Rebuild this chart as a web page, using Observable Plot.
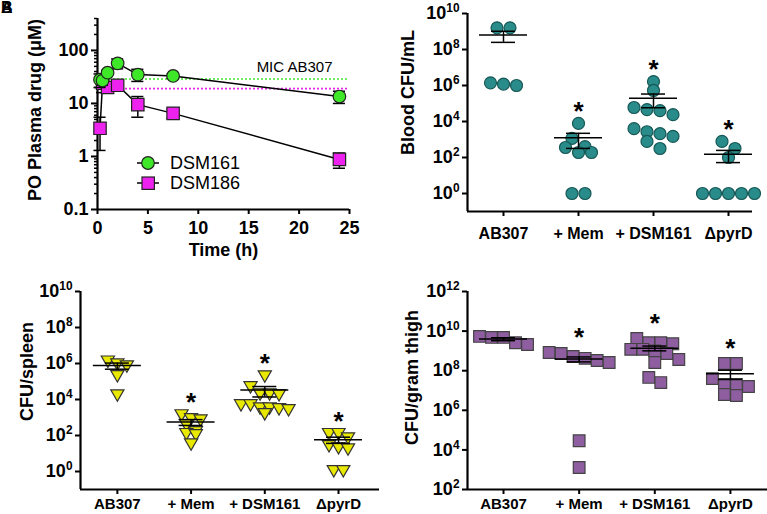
<!DOCTYPE html>
<html><head><meta charset="utf-8">
<script src="https://cdn.jsdelivr.net/npm/d3@7"></script>
<script src="https://cdn.jsdelivr.net/npm/@observablehq/plot@0.6"></script>
<style>
body{margin:0;background:#fff;}
#root{position:relative;width:767px;height:514px;overflow:hidden;font-family:"Liberation Sans",Arial,sans-serif;background:#fff;}
.panel{position:absolute;}
.panel svg{overflow:visible;}
.lg{position:absolute;font-size:18px;line-height:22px;color:#000;white-space:nowrap;}
</style></head><body><div id="root"></div>
<script>
// ---------- Panel A data ----------
const times = [0.25, 0.5, 1, 2, 4, 7.5, 24];
const dsm161 = [28, 27, 38, 57, 35, 33, 13.5];
const dsm161Sd = [8, 5, 4, 12, 9, 3, 3.5];
const dsm186 = [3.4, 24, 20, 22, 9.5, 6.5, 0.88];
const dsm186Sd = [2.1, 8, 3, 3, 4, 1.2, 0.28];
const micLevels = [29, 19]; // DSM161, DSM186
const seriesNames = ["DSM161", "DSM186"];
const xTicksA = [0, 5, 10, 15, 20, 25];
const yTicksA = [0.1, 1, 10, 100];

// ---------- Panels B-D data ----------
const groups = ["AB307", "+ Mem", "+ DSM161", "ΔpyrD"];
const sigGroups = ["+ Mem", "+ DSM161", "ΔpyrD"];
const bloodAB307 = [1.6e9, 1.6e9, 1.4e6, 1.2e6, 1.0e6];
const bloodMem = [7.8e3, 1150, 400, 360, 190, 190, 1, 1];
const bloodDSM161 = [1.65e6, 5.3e5, 6e4, 4.6e4, 4e4, 2.4e4, 4e3, 2.7e3, 2.1e3, 1.5e3, 780, 316];
const bloodPyrD = [780, 316, 100, 1, 1, 1, 1, 1];
const spleenAB307 = [1.6e6, 1.1e6, 8.7e5, 2.5e5, 2.1e4];
const spleenMem = [1660, 1000, 870, 460, 190, 150, 130, 40];
const spleenDSM161 = [2.4e5, 6e4, 2.4e4, 2.4e4, 2.2e4, 6e3, 6e3, 4e3, 4e3, 3.6e3, 3.2e3, 1.9e3];
const spleenPyrD = [150, 150, 87, 32, 25, 21, 1.3, 1.3];
const thighAB307 = [5.4e9, 4.8e9, 4.8e9, 2.6e9, 2.1e9];
const thighMem = [8.3e8, 7.4e8, 5.2e8, 4.2e8, 3.3e8, 2.6e8, 2.9e4, 1.3e3];
const thighDSM161 = [4.2e9, 2.6e9, 2.6e9, 2.3e9, 1.2e9, 1.2e9, 1e9, 7.4e8, 3.7e8, 2.6e8, 4.6e7, 2.5e7];
const thighPyrD = [2.3e8, 2.3e8, 4e7, 2e7, 2e7, 1.6e7, 6.3e6, 5.6e6];
const cfuTicks = [1, 1e2, 1e4, 1e6, 1e8, 1e10];
const thighTicks = [1e2, 1e4, 1e6, 1e8, 1e10, 1e12];

const FONT = '"Liberation Sans", Arial, Helvetica, sans-serif';
const GREEN = "#3ee828", MAGENTA = "#ee22ee";
const root = document.getElementById("root");

function fmtPow(d) { return "10^" + Math.round(Math.log10(d)); }
function superscriptify(svg) {
  d3.select(svg).selectAll("text").each(function () {
    const m = /^10\^(-?\d+)$/.exec(this.textContent);
    if (!m) return;
    const sel = d3.select(this);
    sel.text(null);
    sel.append("tspan").text("10");
    sel.append("tspan").attr("font-size", "0.66em").attr("dy", "-0.6em").text(m[1]);
  });
}
function place(node, left, top) {
  const d = document.createElement("div");
  d.className = "panel"; d.style.left = left + "px"; d.style.top = top + "px";
  d.appendChild(node); root.appendChild(d);
}
const yLabelMark = (label, dx, dy) =>
  Plot.text([label], {frameAnchor: "left", rotate: -90, textAnchor: "middle", lineAnchor: "middle", dx, dy, fontSize: 18, fontWeight: "bold"});

// ---------- Panel A ----------
(function () {
  const rows = (vals, sd, name) => times.map((t, i) => ({series: name, t, v: vals[i], lo: vals[i] - sd[i], hi: vals[i] + sd[i]}));
  const r161 = rows(dsm161, dsm161Sd, seriesNames[0]);
  const r186 = rows(dsm186, dsm186Sd, seriesNames[1]);
  const minor = [];
  for (const base of [0.1, 1, 10, 100]) for (let k = 2; k <= 9; k++) if (base * k <= 400) minor.push(base * k);
  const seriesMarks = (rs, symbol, fill, r) => [
    Plot.line(rs, {x: "t", y: "v", stroke: "black", strokeWidth: 1.5}),
    Plot.ruleX(rs, {x: "t", y1: "lo", y2: "hi", stroke: "black", strokeWidth: 1.5}),
    Plot.ruleY(rs, {y: "lo", x1: d => d.t - 0.6, x2: d => d.t + 0.6, stroke: "black", strokeWidth: 1.5}),
    Plot.ruleY(rs, {y: "hi", x1: d => d.t - 0.6, x2: d => d.t + 0.6, stroke: "black", strokeWidth: 1.5}),
    Plot.dot(rs, {x: "t", y: "v", symbol, r, fill, stroke: "#222", strokeWidth: 1.2})
  ];
  const svg = Plot.plot({
    width: 380, height: 260, marginLeft: 97, marginRight: 31, marginTop: 18, marginBottom: 51,
    style: {fontFamily: FONT, fontSize: "18px", fontWeight: "bold", color: "black", background: "white", overflow: "visible"},
    x: {type: "linear", domain: [0, 25]},
    y: {type: "log", domain: [0.1, 400]},
    marks: [
      Plot.axisY({ticks: minor, tickSize: 3, tickFormat: () => "", label: null, strokeWidth: 1.5}),
      Plot.axisY({ticks: yTicksA, tickFormat: d => String(d), tickSize: 6, tickPadding: 3, label: null, strokeWidth: 2, fontSize: 18}),
      Plot.axisX({ticks: xTicksA, tickSize: 5, tickPadding: 7, label: null, strokeWidth: 2, fontSize: 18}),
      Plot.ruleX([0], {strokeWidth: 2.2}),
      Plot.ruleY([0.1], {strokeWidth: 2.2}),
      Plot.ruleY([micLevels[0]], {stroke: GREEN, strokeWidth: 1.6, strokeDasharray: "2,2"}),
      Plot.ruleY([micLevels[1]], {stroke: MAGENTA, strokeWidth: 1.6, strokeDasharray: "2,2"}),
      Plot.text(["MIC AB307"], {frameAnchor: "right", y: () => micLevels[0], textAnchor: "end", lineAnchor: "middle", dx: -17, dy: -12, fontWeight: "normal", fontSize: 15}),
      ...seriesMarks(r186, "square", MAGENTA, 7),
      ...seriesMarks(r161, "circle", GREEN, 6.3),
      Plot.text(["Time (h)"], {frameAnchor: "bottom", textAnchor: "middle", lineAnchor: "middle", dy: 41, fontSize: 18}),
      yLabelMark("PO Plasma drug (μM)", -62, -4)
    ]
  });
  place(svg, 0, 0);
  // legend
  const items = [
    {name: seriesNames[0], fill: GREEN, shape: "circle", y: 163},
    {name: seriesNames[1], fill: MAGENTA, shape: "square", y: 183}
  ];
  for (const it of items) {
    const s = document.createElementNS("http://www.w3.org/2000/svg", "svg");
    s.setAttribute("width", 26); s.setAttribute("height", 16);
    s.style.position = "absolute"; s.style.left = "135px"; s.style.top = (it.y - 8) + "px";
    const shape = it.shape === "circle"
      ? `<circle cx="13" cy="8" r="6.3" fill="${it.fill}" stroke="#222" stroke-width="1.2"/>`
      : `<rect x="7" y="2" width="12.4" height="12.4" fill="${it.fill}" stroke="#222" stroke-width="1.2"/>`;
    s.innerHTML = `<line x1="2" x2="24" y1="8" y2="8" stroke="black" stroke-width="1.5"/>` + shape;
    root.appendChild(s);
    const t = document.createElement("div");
    t.className = "lg"; t.textContent = it.name;
    t.style.left = "170px"; t.style.top = (it.y - 11) + "px";
    root.appendChild(t);
  }
  for (const L of ["A", "B"]) {
    const t = document.createElement("div");
    t.className = "lg"; t.textContent = L;
    t.style.left = "1px"; t.style.top = "0px"; t.style.lineHeight = "16px";
    t.style.fontWeight = "bold"; t.style.fontSize = "16px";
    root.appendChild(t);
  }
})();

// ---------- Scatter panels ----------
const sqrt3 = Math.sqrt(3);
const triangleDown = {
  draw(ctx, size) {
    const y = Math.sqrt(size / (sqrt3 * 3));
    ctx.moveTo(0, y * 2);
    ctx.lineTo(-sqrt3 * y, -y);
    ctx.lineTo(sqrt3 * y, -y);
    ctx.closePath();
  }
};

function rowOffsets(vals, ppd, spacing, thresh) {
  const idx = d3.range(vals.length).sort((a, b) => vals[b] - vals[a]);
  const offs = new Array(vals.length);
  let row = [], start = null;
  const flush = () => row.forEach((k, j) => offs[k] = (j - (row.length - 1) / 2) * spacing);
  for (const k of idx) {
    const py = Math.log10(vals[k]) * ppd;
    if (start !== null && start - py <= thresh) row.push(k);
    else { flush(); row = [k]; start = py; }
  }
  flush();
  return offs;
}

function scatterPanel(c) {
  const innerH = c.height - c.marginTop - c.marginBottom;
  const ppd = innerH / (Math.log10(c.yDomain[1]) - Math.log10(c.yDomain[0]));
  const innerW = c.width - c.marginLeft - c.marginRight;
  const ppu = innerW / (c.xDomain[1] - c.xDomain[0]);
  const pts = [];
  c.data.forEach((vals, g) => {
    const offs = rowOffsets(vals, ppd, c.spacing, c.thresh);
    vals.forEach((v, i) => pts.push({g, v, x: g + offs[i] / ppu}));
  });
  const stats = c.data.map((vals, g) => {
    const m = d3.mean(vals), se = d3.deviation(vals) / Math.sqrt(vals.length);
    return {g, name: groups[g], m, lo: Math.max(m - se, c.yDomain[0]), hi: m + se, max: d3.max(vals)};
  });
  const stars = stats.filter(s => sigGroups.includes(s.name));
  const hw = 24 / ppu, cw = 12 / ppu;
  const svg = Plot.plot({
    width: c.width, height: c.height, marginLeft: c.marginLeft, marginRight: c.marginRight,
    marginTop: c.marginTop, marginBottom: c.marginBottom,
    style: {fontFamily: FONT, fontSize: "16px", fontWeight: "bold", color: "black", background: "white", overflow: "visible"},
    x: {type: "linear", domain: c.xDomain},
    y: {type: "log", domain: c.yDomain},
    marks: [
      Plot.axisY({ticks: c.yTicks, tickFormat: fmtPow, tickSize: 5, tickPadding: 3, label: null, strokeWidth: 2, fontSize: 18}),
      Plot.axisX({ticks: [0, 1, 2, 3], tickFormat: i => groups[i], tickSize: 5, tickPadding: c.tickPadX, label: null, strokeWidth: 2, fontSize: c.catFont}),
      Plot.ruleX([c.xDomain[0]], {strokeWidth: 2.2}),
      Plot.ruleY([c.yDomain[0]], {strokeWidth: 2.2}),
      Plot.dot(pts, {x: "x", y: "v", symbol: c.symbol, r: c.r, fill: c.fill, stroke: c.stroke, strokeWidth: 1.2}),
      Plot.ruleY(stats, {y: "m", x1: d => d.g - hw, x2: d => d.g + hw, stroke: "black", strokeWidth: 1.5}),
      Plot.ruleY(stats, {y: "lo", x1: d => d.g - cw, x2: d => d.g + cw, stroke: "black", strokeWidth: 1.5}),
      Plot.ruleY(stats, {y: "hi", x1: d => d.g - cw, x2: d => d.g + cw, stroke: "black", strokeWidth: 1.5}),
      Plot.ruleX(stats, {x: "g", y1: "lo", y2: "hi", stroke: "black", strokeWidth: 1.5}),
      Plot.text(stars, {x: "g", y: "max", text: () => "*", dy: c.starDy, fontSize: 26}),
      yLabelMark(c.yLabel, c.labelDx, c.labelDy)
    ]
  });
  superscriptify(svg);
  return svg;
}

place(scatterPanel({
  data: [bloodAB307, bloodMem, bloodDSM161, bloodPyrD],
  width: 387, height: 260, marginLeft: 87, marginRight: 15, marginTop: 13, marginBottom: 49,
  yDomain: [0.1, 1e10], yTicks: cfuTicks, xDomain: [-0.48, 3.32], tickPadX: 11, catFont: 16,
  symbol: "circle", r: 6, fill: "#2a8c8a", stroke: "#155856", spacing: 13, thresh: 8.5,
  starDy: -12, yLabel: "Blood CFU/mL", labelDx: -59, labelDy: -20
}), 380, 0);

place(scatterPanel({
  data: [spleenAB307, spleenMem, spleenDSM161, spleenPyrD],
  width: 380, height: 254, marginLeft: 80, marginRight: 1, marginTop: 31, marginBottom: 25,
  yDomain: [0.1, 1e10], yTicks: cfuTicks, xDomain: [-0.5, 3.556], tickPadX: 4, catFont: 15,
  symbol: triangleDown, r: 4.9, fill: "#e8e800", stroke: "#333", spacing: 9.5, thresh: 8.5,
  starDy: -11, yLabel: "CFU/spleen", labelDx: -53, labelDy: -19
}), 0, 260);

place(scatterPanel({
  data: [thighAB307, thighMem, thighDSM161, thighPyrD],
  width: 387, height: 254, marginLeft: 87, marginRight: 0, marginTop: 31, marginBottom: 25,
  yDomain: [1e2, 1e12], yTicks: thighTicks, xDomain: [-0.476, 3.49], tickPadX: 4, catFont: 15,
  symbol: "square", r: 6.6, fill: "#8e5ea0", stroke: "#444", spacing: 12, thresh: 10.5,
  starDy: -15, yLabel: "CFU/gram thigh", labelDx: -55, labelDy: -13
}), 380, 260);
</script></body></html>
